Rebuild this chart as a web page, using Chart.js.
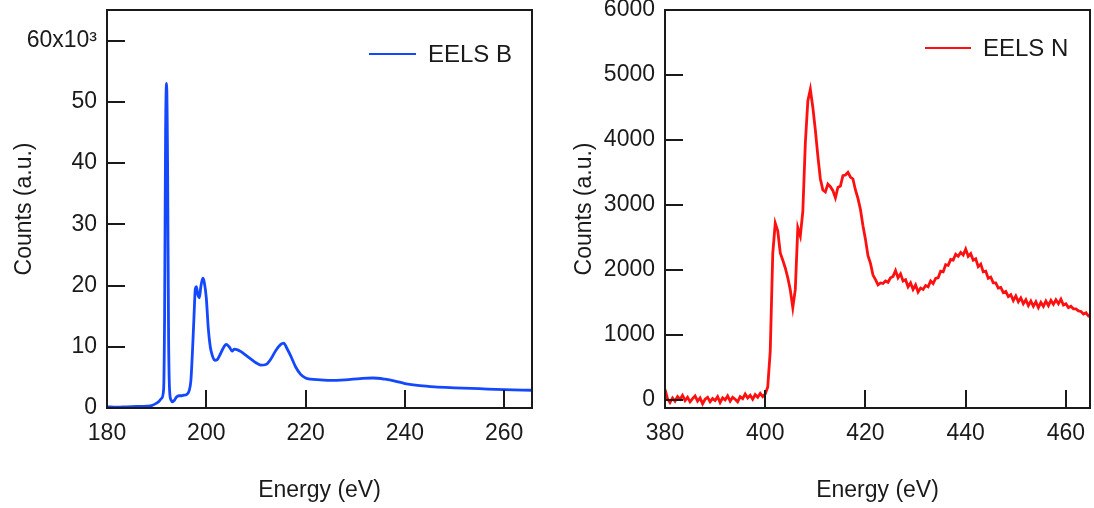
<!DOCTYPE html>
<html>
<head>
<meta charset="utf-8">
<script src="https://cdn.jsdelivr.net/npm/chart.js@4/dist/chart.umd.min.js"></script>
<style>
  html, body { margin: 0; padding: 0; background: #fff; }
  .panel { position: absolute; top: 0; width: 547px; height: 508px; }
</style>
</head>
<body>
<div class="panel" style="left:0"><canvas id="chartB" width="547" height="508"></canvas></div>
<div class="panel" style="left:547px"><canvas id="chartN" width="547" height="508"></canvas></div>
<script>
// EELS B edge (eV, counts)
const bEnergy = [180, 182, 184, 186, 188, 189, 190, 190.5, 191, 191.4, 191.6, 191.8, 192.0, 192.2, 192.4, 192.6, 192.9,
    193.2, 193.6, 194, 194.5, 195, 195.5, 196, 196.5, 196.9, 197.2, 197.5, 197.8, 198.0, 198.3, 198.6, 198.9, 199.3,
    199.6, 200.0, 200.4, 200.8, 201.2, 201.7, 202.2, 202.7, 203.3, 204.0, 204.6, 205.2, 205.6, 206.3, 207, 208, 209,
    210, 211, 212, 213, 214, 215, 215.6, 216.2, 217, 218, 219, 220, 221, 223, 225, 228, 231, 233.5, 236, 238, 240,
    243, 246, 250, 255, 260, 265.6];
const bCounts = [200, 150, 200, 250, 300, 400, 800, 1100, 1600, 3000, 15000, 45000, 53000, 40000, 12000, 3000, 1300,
    1000, 1300, 1800, 2000, 2000, 2100, 2200, 2700, 4500, 9000, 14500, 19500, 19800, 18500, 18000, 19800, 21200,
    20500, 18000, 13000, 10000, 8600, 7800, 7900, 8600, 9600, 10400, 10000, 9300, 9600, 9500, 9200, 8600, 8000,
    7400, 7000, 7100, 8000, 9400, 10400, 10600, 9800, 8500, 6700, 5500, 4900, 4700, 4600, 4500, 4600, 4800, 4900,
    4700, 4400, 4000, 3650, 3450, 3300, 3150, 3000, 2900];

// EELS N edge (eV, counts)
const nEnergy = [380, 380.5, 381, 381.5, 382, 382.5, 383, 383.5, 384, 384.5, 385, 385.5, 386, 386.5, 387, 387.5, 388,
    388.5, 389, 389.5, 390, 390.5, 391, 391.5, 392, 392.5, 393, 393.5, 394, 394.5, 395, 395.5, 396, 396.5, 397, 397.5,
    398, 398.5, 399, 399.5, 400, 400.5, 401, 401.5, 402, 402.5, 403, 403.5, 404, 404.5, 405, 405.5, 406, 406.5, 407,
    407.5, 408, 408.5, 409, 409.5, 410, 410.5, 411, 411.5, 412, 412.5, 413, 413.5, 414, 414.5, 415, 415.5, 416, 416.5,
    417, 417.5, 418, 418.5, 419, 419.5, 420, 420.5, 421, 421.5, 422, 422.5, 423, 423.5, 424, 424.5, 425, 425.5, 426,
    426.5, 427, 427.5, 428, 428.5, 429, 429.5, 430, 430.5, 431, 431.5, 432, 432.5, 433, 433.5, 434, 434.5, 435, 435.5,
    436, 436.5, 437, 437.5, 438, 438.5, 439, 439.5, 440, 440.5, 441, 441.5, 442, 442.5, 443, 443.5, 444, 444.5, 445,
    445.5, 446, 446.5, 447, 447.5, 448, 448.5, 449, 449.5, 450, 450.5, 451, 451.5, 452, 452.5, 453, 453.5, 454, 454.5,
    455, 455.5, 456, 456.5, 457, 457.5, 458, 458.5, 459, 459.5, 460, 460.5, 461, 461.5, 462, 462.5, 463, 463.5, 464,
    464.5, 465];
const nCounts = [160, 20, -40, 30, -20, 50, 10, 70, -10, 40, -30, 20, 60, -20, 30, -60, 10, 40, -30, 20, -10, 50, -40,
    30, 0, 60, -20, 40, 10, -30, 50, 20, 90, 30, 70, 10, 80, 40, 100, 50, 90, 200, 750, 2250, 2720, 2600, 2260, 2150,
    2030, 1880, 1690, 1420, 1700, 2650, 2520, 2900, 3950, 4600, 4780, 4500, 4150, 3750,
    3400, 3230, 3200, 3320, 3280, 3220, 3110, 3270, 3290, 3450, 3460, 3500, 3430, 3400, 3230, 3100,
    2930, 2680, 2470, 2220, 2100, 1920, 1850, 1770, 1800, 1790,
    1830, 1810, 1880, 1900, 1990, 1880, 1940, 1830, 1850, 1740,
    1800, 1700, 1770, 1660, 1720, 1700, 1760, 1740, 1830, 1790,
    1870, 1880, 1980, 1970, 2080, 2070, 2160, 2150, 2240, 2210,
    2270, 2230, 2320, 2210, 2250, 2150, 2170, 2050, 2090, 1970,
    1980, 1870, 1890, 1800, 1800, 1720, 1730, 1650, 1670, 1590,
    1620, 1530, 1600, 1510, 1570, 1480, 1540, 1450, 1520, 1440,
    1510, 1420, 1500, 1440, 1520, 1450, 1530, 1470, 1540, 1480,
    1550, 1460, 1480, 1420, 1440, 1400, 1400, 1370, 1360, 1320,
    1340, 1290, 1310];

// tick values and labels
const bXTicks = [180, 200, 220, 240, 260];
const bYTicks = [0, 10000, 20000, 30000, 40000, 50000, 60000];
const bYTickLabels = ['0', '10', '20', '30', '40', '50', '60x10³'];
const nXTicks = [380, 400, 420, 440, 460];
const nYTicks = [0, 1000, 2000, 3000, 4000, 5000, 6000];

const FONT = 'Liberation Sans, Arial, Helvetica, sans-serif';
const INK = '#1a1a1a';

// box, inner ticks and in-plot legend
const framePlugin = {
    id: 'frame',
    afterDatasetsDraw(chart, args, opts) {
        const {ctx, chartArea: a, scales} = chart;
        ctx.save();
        ctx.strokeStyle = INK;
        ctx.lineWidth = 2;
        ctx.strokeRect(a.left, a.top, a.right - a.left, a.bottom - a.top);
        ctx.beginPath();
        scales.x.ticks.forEach(function (t) {
            const px = Math.round(scales.x.getPixelForValue(t.value));
            if (px <= a.left + 1) return;
            ctx.moveTo(px, a.bottom);
            ctx.lineTo(px, a.bottom - 18);
        });
        scales.y.ticks.forEach(function (t) {
            const py = Math.round(scales.y.getPixelForValue(t.value));
            if (py >= a.bottom - 1 || py <= a.top + 1) return;
            ctx.moveTo(a.left, py);
            ctx.lineTo(a.left + 18, py);
        });
        ctx.stroke();

        const ds = chart.data.datasets[0];
        const ly = a.top + opts.dy;
        ctx.strokeStyle = ds.borderColor;
        ctx.lineWidth = 2;
        ctx.beginPath();
        ctx.moveTo(a.right - opts.lineFrom, ly);
        ctx.lineTo(a.right - opts.lineTo, ly);
        ctx.stroke();
        ctx.fillStyle = INK;
        ctx.font = '24px ' + FONT;
        ctx.textBaseline = 'middle';
        ctx.fillText(ds.label, a.right - opts.textAt, ly + 1);
        ctx.restore();
    }
};

const makeChart = function (id, cfg) {
    const points = cfg.energy.map(function (e, i) {
        return {x: e, y: cfg.counts[i]};
    });
    return new Chart(document.getElementById(id), {
        type: 'line',
        data: {
            datasets: [{
                label: cfg.label,
                data: points,
                borderColor: cfg.color,
                borderWidth: 2.8,
                pointRadius: 0,
                cubicInterpolationMode: cfg.smooth ? 'monotone' : 'default',
                tension: cfg.smooth ? 0.4 : 0,
                fill: false,
            }]
        },
        options: {
            responsive: false,
            animation: false,
            layout: {
                padding: {top: 10, right: cfg.padRight, left: 0, bottom: 0}
            },
            plugins: {
                legend: {display: false},
                tooltip: {enabled: false},
                frame: cfg.legend,
            },
            scales: {
                x: {
                    type: 'linear',
                    min: cfg.xMin,
                    max: cfg.xMax,
                    grid: {display: false, drawTicks: false},
                    border: {display: false},
                    afterBuildTicks: function (scale) {
                        scale.ticks = cfg.xTicks.map(function (v) { return {value: v}; });
                    },
                    ticks: {
                        maxRotation: 0,
                        autoSkip: false,
                        padding: 12,
                        color: INK,
                        font: {family: FONT, size: 23},
                    },
                    title: {
                        display: true,
                        text: 'Energy (eV)',
                        color: INK,
                        font: {family: FONT, size: 23},
                        padding: {top: 0, bottom: 4},
                    },
                    afterFit: function (scale) {
                        scale.height = 100;
                        scale.paddingLeft = 0;
                        scale.paddingRight = 0;
                    }
                },
                y: {
                    type: 'linear',
                    min: cfg.yMin,
                    max: cfg.yMax,
                    grid: {display: false, drawTicks: false},
                    border: {display: false},
                    afterBuildTicks: function (scale) {
                        scale.ticks = cfg.yTicks.map(function (v) { return {value: v}; });
                    },
                    ticks: {
                        autoSkip: false,
                        padding: 10,
                        color: INK,
                        font: {family: FONT, size: 23},
                        callback: cfg.yLabel,
                    },
                    title: {
                        display: true,
                        text: 'Counts (a.u.)',
                        color: INK,
                        font: {family: FONT, size: 23},
                        padding: {top: cfg.yTitlePad, bottom: 0},
                    },
                    afterFit: function (scale) {
                        scale.width = cfg.yWidth;
                        scale.paddingTop = 0;
                        scale.paddingBottom = 0;
                    }
                }
            }
        },
        plugins: [framePlugin]
    });
};

makeChart('chartB', {
    label: 'EELS B',
    energy: bEnergy,
    counts: bCounts,
    color: '#1448ff',
    smooth: true,
    xMin: 180, xMax: 265.6, xTicks: bXTicks,
    yMin: 0, yMax: 65000, yTicks: bYTicks,
    yLabel: function (v, i) { return bYTickLabels[i]; },
    yWidth: 107,
    yTitlePad: 11,
    padRight: 15,
    legend: {dy: 44, lineFrom: 163, lineTo: 116, textAt: 104},
});

makeChart('chartN', {
    label: 'EELS N',
    energy: nEnergy,
    counts: nCounts,
    color: '#ff1010',
    smooth: false,
    xMin: 380, xMax: 464.8, xTicks: nXTicks,
    yMin: -125, yMax: 6000, yTicks: nYTicks,
    yLabel: function (v) { return String(v); },
    yWidth: 118,
    yTitlePad: 24,
    padRight: 4,
    legend: {dy: 38, lineFrom: 165, lineTo: 119, textAt: 107},
});
</script>
</body>
</html>
